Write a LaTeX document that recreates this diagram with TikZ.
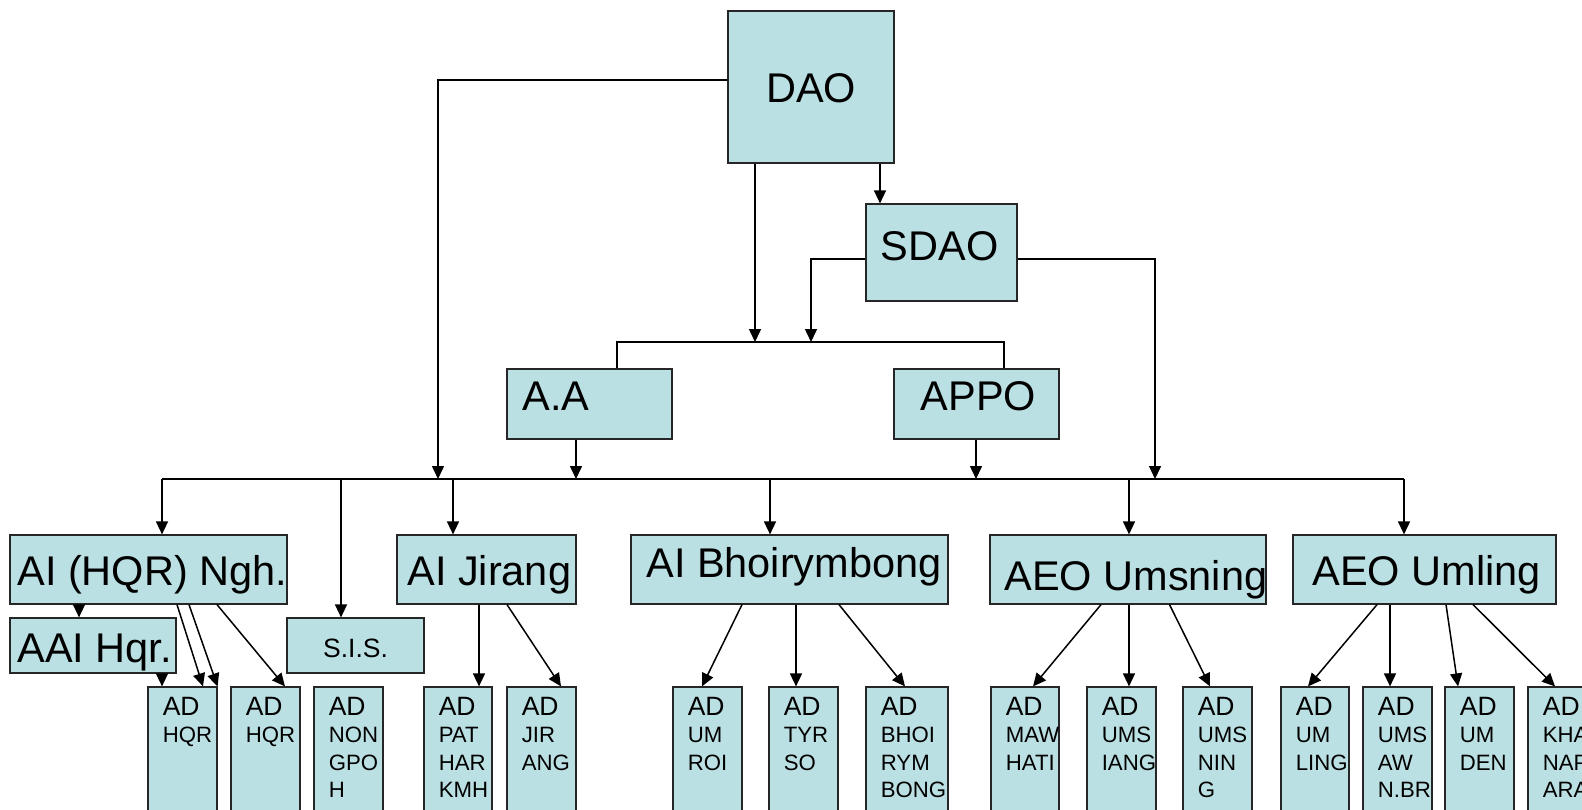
\documentclass[tikz,border=0pt]{standalone}
\usepackage{fontspec}
\setmainfont{Liberation Sans}
\usetikzlibrary{arrows.meta,fit,calc}
\definecolor{boxfill}{HTML}{BBE0E3}
\tikzset{
  box/.style={draw=black!85, line width=0.6pt, fill=boxfill, inner sep=0pt},
  arr/.style={line width=0.75pt, -{Triangle[length=6.5pt,width=6pt]}},
  ln/.style={line width=0.75pt},
  bigtxt/.style={font=\fontsize{20.75}{24}\selectfont, inner sep=0pt},
  midtxt/.style={font=\fontsize{13.25}{16}\selectfont, inner sep=0pt},
  adtxt/.style={font=\fontsize{11.1}{13.75}\selectfont, align=left, inner sep=0pt, anchor=north west},
}
\newcommand\adbox[4]{%
  \node[box, fit={(#2,687) (#3,840)}] (#1) {};
  \node[adtxt] (#1t) at ($(#1.north west)+(15,10)$) {{\fontsize{13.25}{13.75}\selectfont AD}\\#4};
}
\begin{document}
\begin{tikzpicture}[x=0.5pt,y=-0.5pt]
\useasboundingbox (0,0) rectangle (1582,809);
\fill[white] (0,0) rectangle (1582,809);
\clip (0,0) rectangle (1582,809);

% upper boxes
\node[box, fit={(728,11) (894,163)}] (dao) {};
\node[bigtxt, anchor=base] (daot) at (811,102) {DAO};
\node[box, fit={(866,204) (1017,301)}] (sdao) {};
\node[bigtxt, anchor=base] (sdaot) at (939.5,260) {SDAO};
\node[box, fit={(507,369) (672,439)}] (aa) {};
\node[bigtxt, anchor=base west] (aat) at (522,410.5) {A.A};
\node[box, fit={(894,369) (1059,439)}] (appo) {};
\node[bigtxt, anchor=base] (appot) at (978.5,410.5) {APPO};

% junction coordinates
\coordinate (busL) at (162,479);
\coordinate (busR) at (1404,479);
\coordinate (busA) at (438,479);
\coordinate (busB) at (1155,479);
\coordinate (busC) at (576,479);
\coordinate (busD) at (976,479);
\coordinate (brA) at (755,342);
\coordinate (brB) at (811,342);
\coordinate (brR) at (1004,342);

% second row
\node[box, fit={(10,535) (287,604)}] (aihqr) {};
\node[bigtxt, anchor=base west] (aihqrt) at (17,585) {AI (HQR) Ngh.};
\node[box, fit={(10,618) (176,673)}] (aai) {};
\node[bigtxt, anchor=base west] (aait) at (17,662) {AAI Hqr.};
\node[box, fit={(287,618) (424,673)}] (sis) {};
\node[midtxt, anchor=base] (sist) at (355.5,657) {S.I.S.};
\node[box, fit={(397,535) (576,604)}] (aij) {};
\node[bigtxt, anchor=base west] (aijt) at (407,585) {AI Jirang};
\node[box, fit={(631,535) (948,604)}] (aib) {};
\node[bigtxt, anchor=base west] (aibt) at (646,577) {AI Bhoirymbong};
\node[box, fit={(990,535) (1266,604)}] (aeos) {};
\node[bigtxt, anchor=base west] (aeost) at (1004,590.5) {AEO Umsning};
\node[box, fit={(1293,535) (1556,604)}] (aeol) {};
\node[bigtxt, anchor=base west] (aeolt) at (1312,585.5) {AEO Umling};

% bottom row
\adbox{d1}{148}{217}{HQR}
\adbox{d2}{231}{300}{HQR}
\adbox{d3}{314}{383}{NON\\GPO\\H}
\adbox{d4}{424}{492}{PAT\\HAR\\KMH}
\adbox{d5}{507}{576}{JIR\\ANG}
\adbox{d6}{673}{742}{UM\\ROI}
\adbox{d7}{769}{838}{TYR\\SO}
\adbox{d8}{866}{948}{BHOI\\RYM\\BONG}
\adbox{d9}{991}{1059}{MAW\\HATI}
\adbox{d10}{1087}{1156}{UMS\\IANG}
\adbox{d11}{1183}{1252}{UMS\\NIN\\G}
\adbox{d12}{1281}{1349}{UM\\LING}
\adbox{d13}{1363}{1432}{UMS\\AW\\N.BR}
\adbox{d14}{1445}{1514}{UM\\DEN}
\adbox{d15}{1528}{1597}{KHA\\NAP\\ARA}

% top connectors
\draw[arr] (dao.west |- 0,80) -| (busA);
\draw[arr] (dao.south -| brA) -- (brA);
\draw[arr] (dao.south -| 880,0) -- (sdao.north -| 880,0);
\draw[arr] (sdao.west |- 0,259) -| (brB);
\draw[arr] (sdao.east |- 0,259) -| (busB);
\draw[ln] (aa.north -| 617,0) |- (brR) -- (appo.north -| brR);
\draw[arr] (aa.south -| busC) -- (busC);
\draw[arr] (appo.south -| busD) -- (busD);
\draw[ln] (busL) -- (busR);

% bus drops
\draw[arr] (busL) -- (aihqr.north -| busL);
\draw[arr] (341,479) -- (sis.north -| 341,0);
\draw[arr] (453,479) -- (aij.north -| 453,0);
\draw[arr] (770,479) -- (aib.north -| 770,0);
\draw[arr] (1129,479) -- (aeos.north -| 1129,0);
\draw[arr] (busR) -- (aeol.north -| busR);

% second row to bottom
\draw[arr] (aihqr.south -| 79,0) -- (aai.north -| 79,0);
\draw[arr] (aai.south -| 162,0) -- (d1.north -| 162,0);
\draw[arr] (aihqr.south -| 177,0) -- (d1.north -| 203,0);
\draw[arr] (aihqr.south -| 189,0) -- (d1.north east);
\draw[arr] (aihqr.south -| 217,0) -- (d2.north -| 285,0);
\draw[arr] (aij.south -| 479,0) -- (d4.north -| 479,0);
\draw[arr] (aij.south -| 507,0) -- (d5.north -| 561,0);
\draw[arr] (aib.south -| 742,0) -- (d6.north -| 702,0);
\draw[arr] (aib.south -| 796,0) -- (d7.north -| 796,0);
\draw[arr] (aib.south -| 839,0) -- (d8.north -| 905,0);
\draw[arr] (aeos.south -| 1101,0) -- (d9.north -| 1033,0);
\draw[arr] (aeos.south -| 1129,0) -- (d10.north -| 1129,0);
\draw[arr] (aeos.south -| 1169.5,0) -- (d11.north -| 1210,0);
\draw[arr] (aeol.south -| 1377,0) -- (d12.north -| 1308,0);
\draw[arr] (aeol.south -| 1390,0) -- (d13.north -| 1390,0);
\draw[arr] (aeol.south -| 1446,0) -- (d14.north -| 1458,0);
\draw[arr] (aeol.south -| 1473,0) -- (d15.north -| 1555,0);
\end{tikzpicture}
\end{document}
